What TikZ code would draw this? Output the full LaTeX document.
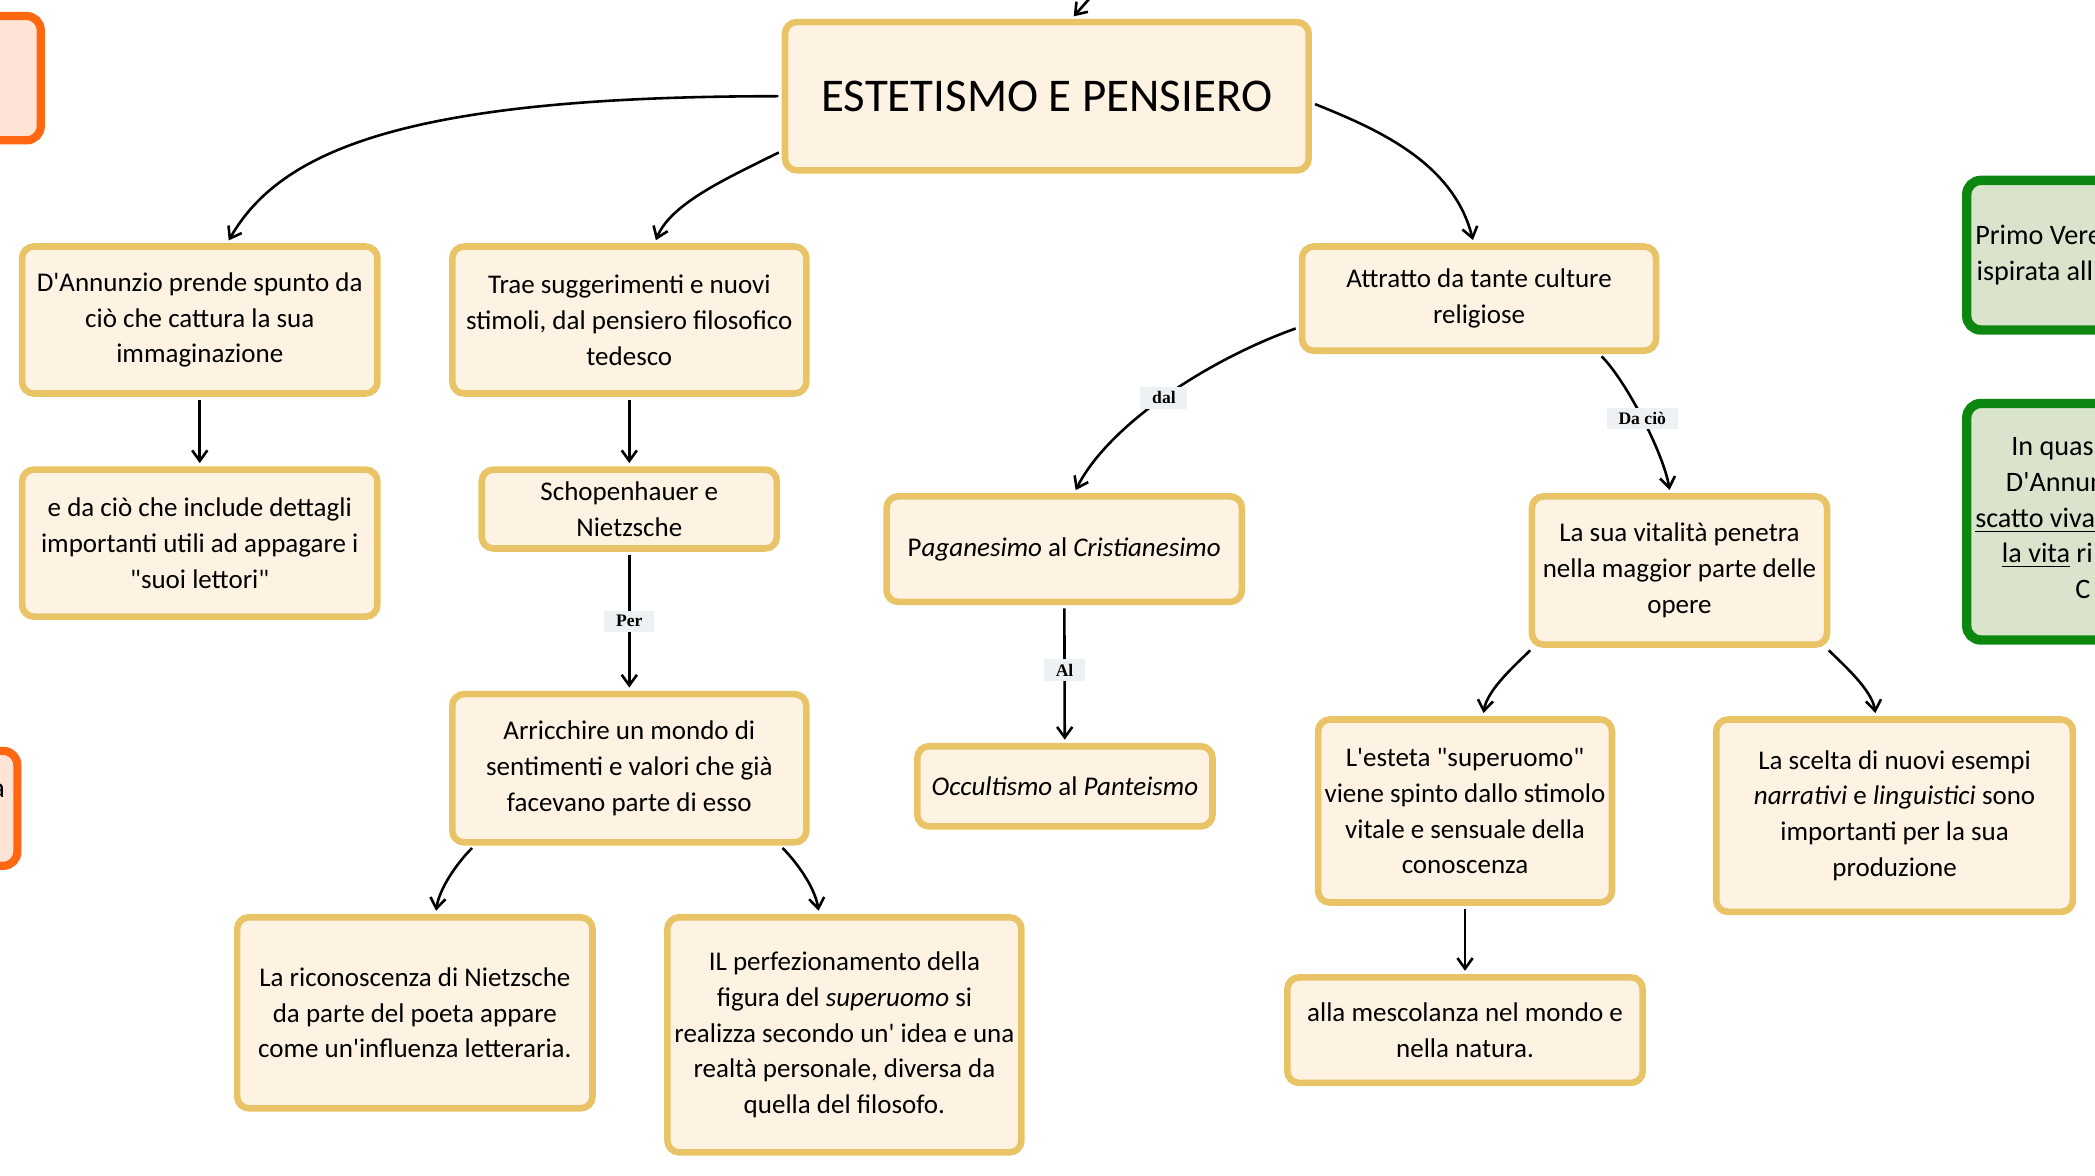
\documentclass[tikz,border=0pt]{standalone}
\usepackage{fontspec}
\setmainfont{Carlito}[Ligatures=TeXOff]
\newfontfamily\labelfont{Liberation Serif}
\usepackage{tikz}
\usetikzlibrary{arrows,arrows.meta}
\usetikzlibrary{calc}
\definecolor{gold}{RGB}{232,196,102}
\definecolor{cream}{RGB}{254,243,226}
\definecolor{fiamma}{RGB}{255,104,16}
\definecolor{pesca}{RGB}{253,228,214}
\definecolor{prato}{RGB}{12,136,16}
\definecolor{salvia}{RGB}{218,228,204}
\definecolor{nebbia}{RGB}{238,241,244}

\begin{document}
\begin{tikzpicture}[x=0.02cm, y=-0.02cm, >={Straight Barb[length=4.5pt,width=6.5pt]},
	concetto/.style={draw=gold, fill=cream, line width=2.8pt, rounded corners=5pt, align=center, inner sep=2pt, font=\fontsize{11.5}{15.3}\selectfont},
	freccia/.style={->, line width=1.1pt, shorten <=1.4pt, shorten >=1.4pt},
	etichetta/.style={fill=nebbia, font=\labelfont\bfseries\fontsize{7.5}{9}\selectfont, inner xsep=5pt, inner ysep=2pt},
	ritaglio/.style={font=\fontsize{12}{15.3}\selectfont, inner sep=0pt}]

	\useasboundingbox (0,0) rectangle (1568,880);
	\clip (0,0) rectangle (1568,880);

	% riquadri tagliati ai bordi
	\draw[line width=3.5pt, draw=fiamma, fill=pesca, rounded corners=6pt] (-40,12) rectangle (30.5,105);
	\draw[line width=3.5pt, draw=fiamma, fill=pesca, rounded corners=6pt] (-40,562) rectangle (13,648);
	\node[ritaglio, anchor=east] (frammento) at (4,592) {a};

	\draw[line width=4pt, draw=prato, fill=salvia, rounded corners=6pt] (1472,135) rectangle (1640,247);
	\draw[line width=4pt, draw=prato, fill=salvia, rounded corners=6pt] (1472,302) rectangle (1640,479);
	\node[ritaglio, anchor=base west] (primo) at (1478,183) {Primo Vere};
	\node[ritaglio, anchor=base west] (ispirata) at (1479,210) {ispirata all};
	\node[ritaglio, anchor=base west] (quasi) at (1505,341) {In quas};
	\node[ritaglio, anchor=base west] (annun) at (1501,368) {D'Annun};
	\node[ritaglio, anchor=base west] (scatto) at (1478,395) {\underline{scatto viva}};
	\node[ritaglio, anchor=base west] (vita) at (1498,421) {\underline{la vita} ri};
	\node[ritaglio, anchor=base west] (ci) at (1553,448) {C};

	% mappa
	\node[concetto, minimum width=7.84cm, minimum height=2.22cm, font=\fontsize{20}{24}\selectfont] (titolo) at (783.5,72) {ESTETISMO E PENSIERO};

	\node[concetto, minimum width=5.32cm, minimum height=2.2cm] (spunto) at (149.5,239.5) {D'Annunzio prende spunto da\\ciò che cattura la sua\\immaginazione};
	\node[concetto, minimum width=5.3cm, minimum height=2.2cm] (stimoli) at (471,239.5) {Trae suggerimenti e nuovi\\stimoli, dal pensiero filosofico\\tedesco};
	\node[concetto, minimum width=5.3cm, minimum height=1.56cm] (culture) at (1107,223.5) {Attratto da tante culture\\religiose};

	\node[concetto, minimum width=5.32cm, minimum height=2.2cm] (lettori) at (149.5,406.5) {e da ciò che include dettagli\\importanti utili ad appagare i\\"suoi lettori"};
	\node[concetto, minimum width=4.42cm, minimum height=1.18cm] (filosofi) at (471,381) {Schopenhauer e\\Nietzsche};
	\node[concetto, minimum width=5.32cm, minimum height=1.58cm] (pagano) at (796.5,411) {P\textit{aganesimo} al \textit{Cristianesimo}};
	\node[concetto, minimum width=4.42cm, minimum height=2.22cm] (vitalita) at (1257,427) {La sua vitalità penetra\\nella maggior parte delle\\opere};

	\node[concetto, minimum width=5.3cm, minimum height=2.22cm] (mondo) at (471,575) {Arricchire un mondo di\\sentimenti e valori che già\\facevano parte di esso};
	\node[concetto, minimum width=4.42cm, minimum height=1.2cm] (occulto) at (797,588.5) {\textit{Occultismo} al \textit{Panteismo}};
	\node[concetto, minimum width=4.4cm, minimum height=2.74cm] (esteta) at (1096.5,607) {L'esteta "superuomo"\\viene spinto dallo stimolo\\vitale e sensuale della\\conoscenza};
	\node[concetto, minimum width=5.34cm, minimum height=2.88cm] (scelta) at (1418,610.5) {La scelta di nuovi esempi\\\textit{narrativi} e \textit{linguistici} sono\\importanti per la sua\\produzione};

	\node[concetto, minimum width=5.32cm, minimum height=2.86cm] (riconoscenza) at (310.5,758) {La riconoscenza di Nietzsche\\da parte del poeta appare\\come un'influenza letteraria.};
	\node[concetto, minimum width=5.3cm, minimum height=3.52cm] (superuomo) at (632,774.5) {IL perfezionamento della\\figura del \textit{superuomo} si\\realizza secondo un' idea e una\\realtà personale, diversa da\\quella del filosofo.};
	\node[concetto, minimum width=5.32cm, minimum height=1.58cm] (mescolanza) at (1096.5,771) {alla mescolanza nel mondo e\\nella natura.};

	% collegamenti
	\coordinate (sopra) at (818,-4);
	\draw[freccia] (sopra) -- ([xshift=0.37cm]titolo.north);

	\draw[freccia] (titolo.west) .. controls +(-280,0) and +(40,-70) .. ([xshift=0.41cm]spunto.north);
	\draw[freccia] ([yshift=-0.82cm]titolo.west) .. controls +(-40,20) and +(12,-30) .. ([xshift=0.38cm]stimoli.north);
	\draw[freccia] ([yshift=-0.1cm]titolo.east) .. controls +(50,20) and +(-15,-60) .. ([xshift=-0.08cm]culture.north);

	\draw[freccia] (spunto) -- (lettori);
	\draw[freccia] (stimoli) -- (filosofi);
	\draw[freccia] (filosofi) -- node[etichetta]{Per} (mondo);
	\draw[freccia] (pagano) -- node[etichetta, pos=0.47]{Al} (occulto);
	\draw[freccia] (esteta) -- (mescolanza);

	\draw[freccia] ([yshift=-0.43cm]culture.west) .. controls +(-70,25) and +(25,-50) .. node[etichetta]{dal} ([xshift=0.15cm]pagano.north);
	\draw[freccia] ([xshift=1.8cm]culture.south) .. controls +(20,20) and +(-5,-30) .. node[etichetta]{Da ciò} ([xshift=-0.14cm]vitalita.north);

	\draw[freccia] ([xshift=-2.32cm]mondo.south) .. controls +(-12,12) and +(3,-20) .. ([xshift=0.31cm]riconoscenza.north);
	\draw[freccia] ([xshift=2.26cm]mondo.south) .. controls +(12,12) and +(-3,-20) .. ([xshift=-0.38cm]superuomo.north);
	\draw[freccia] ([xshift=-2.2cm]vitalita.south) .. controls +(-12,12) and +(3,-20) .. ([xshift=0.27cm]esteta.north);
	\draw[freccia] ([xshift=2.2cm]vitalita.south) .. controls +(12,12) and +(-3,-20) .. ([xshift=-0.28cm]scelta.north);

\end{tikzpicture}
\end{document}
